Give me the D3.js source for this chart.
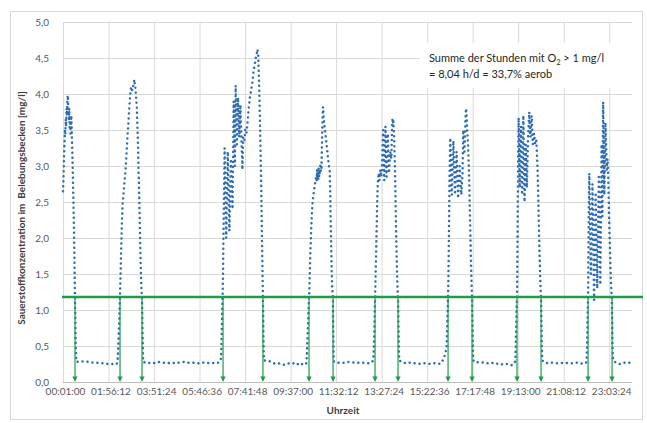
<!DOCTYPE html>
<html>
<head>
<meta charset="utf-8">
<script src="https://cdn.jsdelivr.net/npm/d3@7"></script>
<style>
  html, body { margin: 0; padding: 0; background: #fff; }
  svg { display: block; }
  text { font-family: Lato, "Open Sans", sans-serif; }
</style>
</head>
<body>
<svg id="chart" width="647" height="423"></svg>
<script>
// ---- data ----
const xTickLabels = ["00:01:00","01:56:12","03:51:24","05:46:36","07:41:48","09:37:00",
  "11:32:12","13:27:24","15:22:36","17:17:48","19:13:00","21:08:12","23:03:24"];
const yTicks = [0, 0.5, 1, 1.5, 2, 2.5, 3, 3.5, 4, 4.5, 5];
const yTitle = "Sauerstoffkonzentration im  Belebungsbecken [mg/l]";
const xTitle = "Uhrzeit";
const thresholdValue = 1.18;
// minute of day at which O2 crosses the threshold (green arrows)
const crossMinutes = [31.4, 145.3, 201, 406, 507, 623.6, 684.4, 790.7, 848.9,
  975.5, 1036.2, 1150, 1210.8, 1329.8, 1390.5];
const noteLine1 = ["Summe der Stunden mit O", "2", " > 1 mg/l"];
const noteLine2 = "= 8,04 h/d = 33,7% aerob";

// O2 series: [minute of day, mg/l]
const o2Series = [
  [1,2.65],[2,2.8],[3,3.0],[4,3.2],[5,3.35],[6,3.5],[7,3.45],[8,3.65],[9,3.55],[10,3.8],
  [11,3.7],[12,3.9],[13,3.98],[14,3.85],[15,3.8],[16,3.65],[17,3.8],[18,3.5],[19,3.7],[20,3.45],
  [21,3.6],[22,3.7],[23,3.5],[24,3.3],[25,3.1],[26,2.85],[27,2.6],[28,2.35],[29,2.05],[30,1.7],
  [31,1.3],[32,0.95],[33,0.6],[34,0.35],[35,0.28],
  [45,0.28],[55,0.29],[65,0.28],[75,0.27],[85,0.27],[95,0.26],[105,0.26],[115,0.25],[125,0.25],[133,0.24],[138,0.26],
  [139,0.3],[140,0.38],[141,0.5],[142,0.65],[143,0.8],[144,1.0],[145,1.15],[146,1.35],[147,1.55],[148,1.8],
  [149,2.0],[150,2.2],[151,2.35],[152,2.5],[154,2.6],[156,2.75],[158,2.85],[160,3.0],[162,3.2],[164,3.4],
  [166,3.55],[168,3.75],[170,3.9],[172,4.05],[174,4.1],[176,4.05],[178,4.1],[180,4.15],[182,4.2],[183,4.1],
  [184,4.1],[186,3.95],[188,3.8],[189,3.6],[190,3.45],[191,3.25],[192,3.0],[193,2.8],[194,2.55],[195,2.3],
  [196,2.05],[197,1.8],[198,1.55],[199,1.35],[200,1.25],[201,1.15],[202,0.8],[203,0.45],[204,0.28],
  [215,0.26],[225,0.27],[235,0.26],[245,0.28],[255,0.27],[265,0.26],[275,0.27],[285,0.26],[295,0.27],
  [305,0.28],[315,0.27],[325,0.26],[335,0.27],[345,0.26],[355,0.27],[365,0.26],[375,0.27],[385,0.26],
  [395,0.27],[400,0.3],
  [401,0.35],[402,0.5],[403,0.75],[404,1.0],[405,1.2],[406,1.5],[407,2.0],[408,2.4],[409,2.8],[410,3.25],
  [414,2.0],[418,3.2],[422,2.1],[426,3.1],[430,2.4],[433,3.9],[436,3.0],[438,4.12],[441,3.3],[444,3.95],
  [447,3.4],[450,3.85],[453,3.3],[455,2.95],[457,3.4],[460,3.35],[462,3.5],[465,3.45],[468,3.6],
  [471,3.8],[474,3.95],[477,4.05],[480,4.15],[483,4.3],[486,4.4],[489,4.5],[491,4.55],[493,4.62],
  [495,4.55],[497,4.2],[499,3.75],[501,3.2],[503,2.6],[504,2.2],[505,1.85],[506,1.5],[507,1.17],
  [508,0.75],[509,0.4],[510,0.3],
  [520,0.3],[530,0.27],[540,0.25],[550,0.26],[560,0.24],[570,0.26],[580,0.25],[590,0.27],[600,0.23],
  [610,0.26],[616,0.25],
  [617,0.27],[618,0.35],[619,0.5],[620,0.65],[621,0.8],[622,0.95],[623,1.1],[624,1.22],[625,1.4],[626,1.6],
  [627,1.8],[628,1.95],[629,2.1],[630,2.25],[631,2.35],[632,2.45],[634,2.57],[636,2.65],[638,2.72],[640,2.8],
  [642,2.85],[643,2.8],[644,2.95],[645,2.8],[646,2.9],[647,2.82],[648,2.97],[649,2.85],[650,2.95],[651,2.88],
  [652,3.0],[653,2.9],[654,3.0],[655,2.95],[656,3.2],[657,3.45],[658,3.65],[659,3.82],
  [660,3.75],[661,3.65],[662,3.6],[664,3.5],[666,3.4],[668,3.3],[670,3.2],[672,3.1],[674,3.0],[676,2.95],
  [677,2.7],[678,2.4],[679,2.1],[680,1.8],[681,1.55],[682,1.35],[683,1.25],[684,1.18],[685,0.7],[686,0.35],
  [687,0.28],
  [695,0.27],[705,0.26],[715,0.27],[725,0.28],[735,0.27],[745,0.27],[755,0.26],[765,0.27],[775,0.26],
  [782,0.27],[786,0.3],
  [787,0.4],[788,0.55],[789,0.75],[790,1.0],[791,1.2],[792,1.45],[793,1.7],[794,1.95],[795,2.2],[796,2.45],
  [797,2.65],[798,2.8],[800,2.9],[802,2.8],[804,2.95],[806,2.85],[808,2.94],[811,3.5],[814,2.8],[817,3.55],
  [820,2.85],[823,3.45],[826,2.9],[829,3.2],[832,3.1],[834,3.6],[835,3.67],[836,3.55],[837,3.65],[839,3.4],
  [840,3.2],[841,3.0],[842,2.7],[843,2.4],[844,2.1],[845,1.85],[846,1.6],[847,1.4],[848,1.25],[849,1.15],
  [850,0.8],[851,0.45],[852,0.3],
  [860,0.27],[870,0.26],[880,0.27],[890,0.26],[900,0.25],[910,0.26],[920,0.26],[930,0.25],[940,0.26],
  [950,0.25],[958,0.26],[962,0.3],[966,0.35],[969,0.42],[971,0.45],
  [972,0.5],[973,0.7],[974,0.9],[975,1.1],[976,1.3],[977,1.7],[978,2.2],[979,2.7],[980,3.1],[981,3.39],
  [985,2.6],[989,3.35],[993,2.6],[997,3.2],[1001,2.55],[1005,3.0],[1009,2.6],[1012,2.9],[1014,3.5],
  [1017,3.2],[1020,3.7],[1021,3.8],[1022,3.75],[1024,3.5],[1026,3.3],[1028,3.0],[1029,2.8],[1030,2.55],
  [1031,2.3],[1032,2.05],[1033,1.8],[1034,1.55],[1035,1.35],[1036,1.2],[1037,0.9],[1038,0.55],[1039,0.3],
  [1045,0.27],[1055,0.28],[1065,0.27],[1075,0.26],[1085,0.27],[1095,0.25],[1105,0.26],[1115,0.24],
  [1125,0.25],[1135,0.23],[1142,0.25],[1145,0.28],
  [1146,0.35],[1147,0.55],[1148,0.8],[1149,1.05],[1150,1.2],[1151,1.8],[1152,2.5],[1153,3.2],[1154,3.67],
  [1157,2.7],[1160,3.55],[1163,2.6],[1166,3.7],[1169,2.5],[1172,3.3],[1175,2.7],[1178,3.4],[1181,3.75],
  [1184,3.4],[1187,3.7],[1190,3.3],[1193,3.45],[1196,3.3],[1199,3.35],[1201,3.1],[1202,2.95],[1203,2.75],
  [1204,2.5],[1205,2.25],[1206,2.0],[1207,1.8],[1208,1.6],[1209,1.4],[1210,1.25],[1211,1.15],[1212,0.8],
  [1213,0.45],[1214,0.3],
  [1220,0.27],[1230,0.26],[1240,0.27],[1250,0.26],[1260,0.26],[1270,0.27],[1280,0.26],[1290,0.26],
  [1300,0.27],[1310,0.26],[1320,0.25],[1325,0.27],
  [1326,0.3],[1327,0.45],[1328,0.7],[1329,1.0],[1330,1.25],[1331,1.9],[1332,2.6],[1333,2.9],[1337,1.5],
  [1341,2.75],[1345,1.14],[1349,2.6],[1353,1.3],[1357,2.85],[1361,1.35],[1364,3.3],[1366,2.3],[1368,3.89],
  [1371,2.6],[1374,3.6],[1377,2.95],[1379,3.1],[1380,3.0],[1381,2.8],[1382,2.55],
  [1383,2.3],[1384,2.1],[1385,1.9],[1386,1.7],[1387,1.5],[1388,1.35],[1389,1.25],[1390,1.18],[1391,0.8],
  [1392,0.45],[1393,0.3],
  [1400,0.27],[1410,0.25],[1420,0.27],[1430,0.26],[1441,0.28]
];

// ---- layout ----
const svg = d3.select("#chart");
const L = 63, R = 632, T = 22, B = 382;
const toMin = s => { const [h, m, sec] = s.split(":").map(Number); return h * 60 + m + sec / 60; };
const x = d3.scaleLinear().domain([1, 1441]).range([L, R]);
const y = d3.scaleLinear().domain([0, 5]).range([B, T]);

// outer frame
svg.append("rect").attr("x", 10.5).attr("y", 11.5).attr("width", 632).attr("height", 408)
  .attr("fill", "#fff").attr("stroke", "#d9d9d9");

// y axis + horizontal grid
const yAx = svg.append("g").attr("transform", `translate(${L},0)`)
  .call(d3.axisLeft(y).tickValues(yTicks).tickSize(-(R - L)).tickPadding(14)
    .tickFormat(d => d.toFixed(1).replace(".", ",")));
yAx.select(".domain").remove();
yAx.selectAll("line").attr("stroke", "#d9d9d9");
yAx.selectAll("text").attr("fill", "#595959").style("font-size", "10px");

// x axis + vertical grid
const xAx = svg.append("g").attr("transform", `translate(0,${B})`)
  .call(d3.axisBottom(x).tickValues(xTickLabels.map(toMin)).tickSize(-(B - T)).tickPadding(6)
    .tickFormat((d, i) => xTickLabels[i]));
xAx.select(".domain").remove();
xAx.selectAll("line").attr("stroke", "#d9d9d9");
xAx.selectAll("text").attr("fill", "#595959").attr("dx", 2).style("font-size", "10px");

// axis line
svg.append("line").attr("x1", L).attr("x2", R).attr("y1", B + 0.5).attr("y2", B + 0.5)
  .attr("stroke", "#bfbfbf");

// annotation box (white, covers grid)
svg.append("rect").attr("x", 420).attr("y", 43).attr("width", 215).attr("height", 45).attr("fill", "#fff");
const n1 = svg.append("text").attr("x", 429).attr("y", 62).attr("fill", "#262626").style("font-size", "11px");
n1.append("tspan").text(noteLine1[0]);
n1.append("tspan").attr("dy", 3).style("font-size", "7px").text(noteLine1[1]);
n1.append("tspan").attr("dy", -3).text(noteLine1[2]);
svg.append("text").attr("x", 429).attr("y", 78).attr("fill", "#262626").style("font-size", "11px").text(noteLine2);

// O2 series: round-dot line
const line = d3.line().x(d => x(d[0])).y(d => y(d[1]));
svg.append("path").datum(o2Series).attr("d", line)
  .attr("fill", "none").attr("stroke", "#2e6db4").attr("stroke-width", 2.5)
  .attr("stroke-linecap", "round").attr("stroke-linejoin", "round")
  .attr("stroke-dasharray", "0.01 5");

// threshold line
const green = "#1e9c46";
svg.append("line").attr("x1", 62).attr("x2", 643).attr("y1", y(thresholdValue)).attr("y2", y(thresholdValue))
  .attr("stroke", green).attr("stroke-width", 2.5);

// crossing arrows
const arrows = svg.append("g");
crossMinutes.forEach(m => {
  const cx = x(m);
  arrows.append("line").attr("x1", cx).attr("x2", cx).attr("y1", y(thresholdValue)).attr("y2", y(0) - 4)
    .attr("stroke", green).attr("stroke-width", 1.2);
  arrows.append("path").attr("d", `M${cx - 2.6},${y(0) - 5.5} L${cx + 2.6},${y(0) - 5.5} L${cx},${y(0)} Z`)
    .attr("fill", green);
});

// axis titles
svg.append("text").attr("transform", "translate(25,208) rotate(-90)").attr("text-anchor", "middle")
  .attr("fill", "#404040").style("font-size", "10px").style("font-weight", "bold").attr("xml:space", "preserve")
  .text(yTitle);
svg.append("text").attr("x", 343).attr("y", 414).attr("text-anchor", "middle")
  .attr("fill", "#404040").style("font-size", "10px").style("font-weight", "bold").text(xTitle);
</script>
</body>
</html>
